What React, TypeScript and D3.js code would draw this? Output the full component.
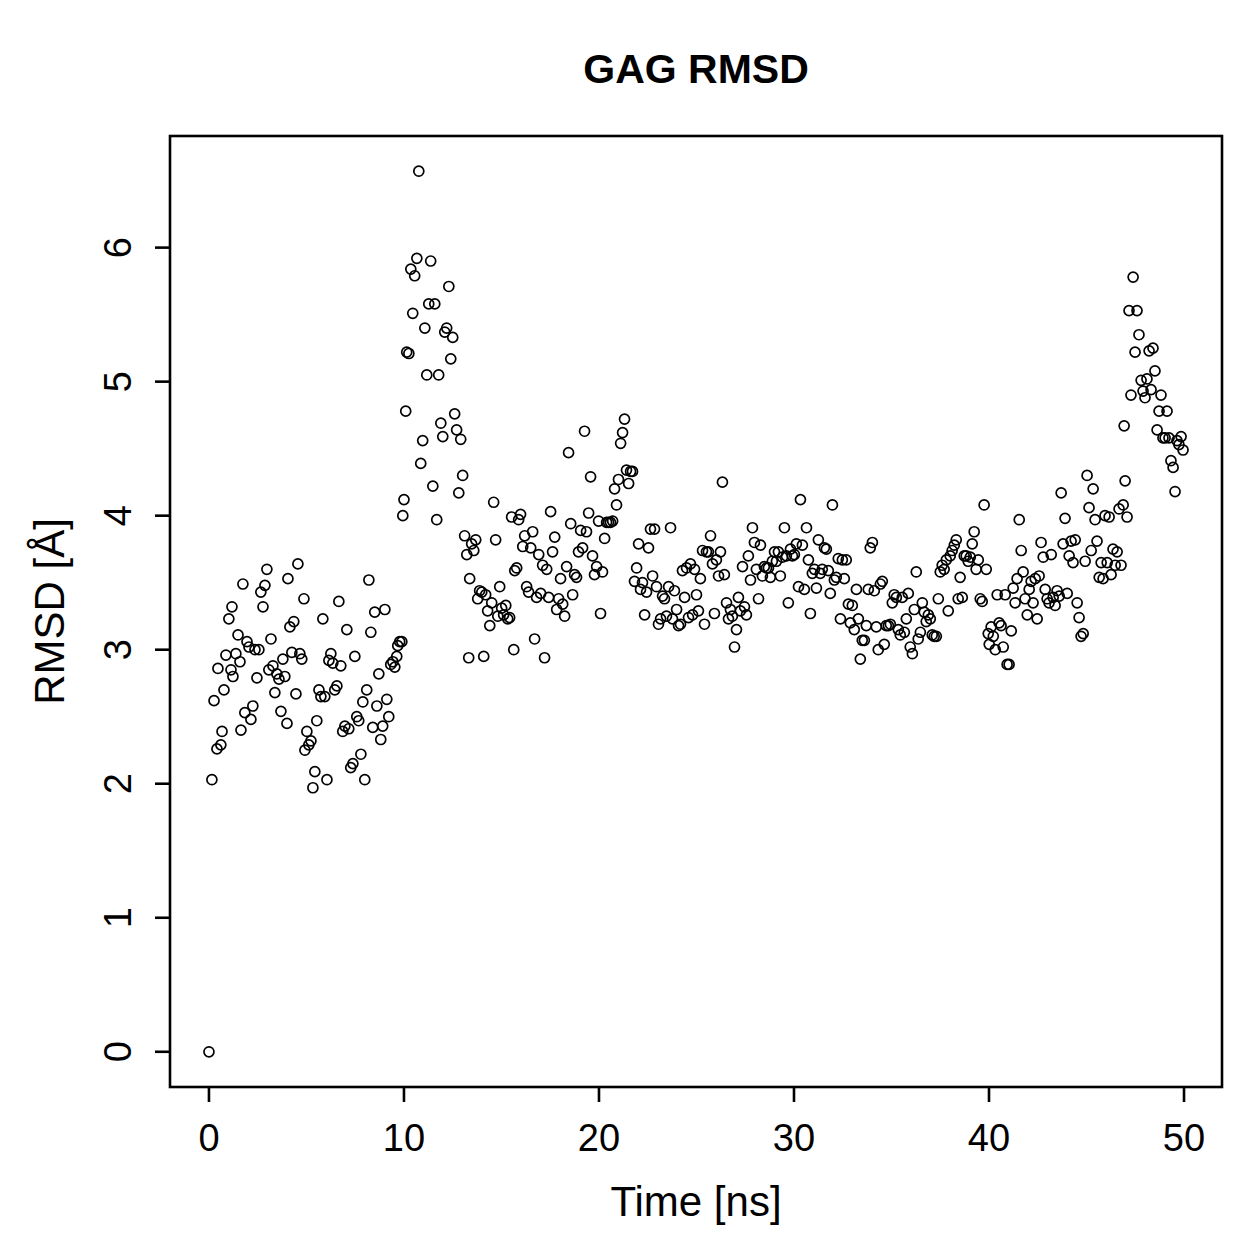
import * as d3 from 'd3'

// GAG RMSD over the 50 ns trajectory, [time ns, rmsd Å]
const early: [number, number][] = [
  [0, 0], [0.15, 2.03], [0.26, 2.62], [0.41, 2.26], [0.46, 2.86], [0.61, 2.29], [0.67, 2.39], [0.77, 2.7], [0.87, 2.96], [1.02, 3.23],
  [1.13, 2.85], [1.18, 3.32], [1.23, 2.8], [1.38, 2.97], [1.49, 3.11], [1.59, 2.91], [1.64, 2.4], [1.74, 3.49], [1.84, 2.53], [1.95, 3.06],
  [2.05, 3.02], [2.15, 2.48], [2.25, 2.58], [2.36, 3.0], [2.46, 2.79], [2.56, 3.0], [2.66, 3.43], [2.77, 3.32], [2.87, 3.48], [2.97, 3.6],
  [3.07, 2.85], [3.18, 3.08], [3.28, 2.88], [3.38, 2.68], [3.48, 2.82], [3.59, 2.78], [3.69, 2.54], [3.79, 2.93], [3.89, 2.8], [4.0, 2.45],
  [4.05, 3.53], [4.15, 3.17], [4.25, 2.98], [4.35, 3.21], [4.46, 2.67], [4.56, 3.64], [4.66, 2.97], [4.76, 2.93], [4.87, 3.38], [4.92, 2.25],
  [5.02, 2.39], [5.12, 2.29], [5.23, 2.32], [5.33, 1.97], [5.43, 2.09], [5.53, 2.47], [5.64, 2.7], [5.74, 2.65], [5.84, 3.23], [5.94, 2.65],
  [6.05, 2.03], [6.15, 2.92], [6.25, 2.97], [6.35, 2.9], [6.45, 2.7], [6.56, 2.73], [6.66, 3.36], [6.76, 2.88], [6.86, 2.39], [6.97, 2.43],
  [7.07, 3.15], [7.17, 2.41], [7.27, 2.12], [7.38, 2.15], [7.48, 2.95], [7.58, 2.5], [7.68, 2.47], [7.79, 2.22], [7.89, 2.61], [7.99, 2.03],
  [8.09, 2.7], [8.2, 3.52], [8.3, 3.13], [8.4, 2.42], [8.5, 3.28], [8.61, 2.58], [8.71, 2.82], [8.81, 2.33], [8.91, 2.43], [9.02, 3.3],
  [9.12, 2.63], [9.22, 2.5], [9.32, 2.89], [9.43, 2.91], [9.53, 2.87], [9.63, 2.95], [9.68, 3.03], [9.78, 3.06], [9.89, 3.06],
]

const jump: [number, number][] = [
  [9.94, 4.0], [10.0, 4.12], [10.09, 4.78], [10.14, 5.22], [10.25, 5.21], [10.35, 5.84], [10.45, 5.51], [10.55, 5.79], [10.66, 5.92], [10.76, 6.57],
  [10.86, 4.39], [10.96, 4.56], [11.07, 5.4], [11.17, 5.05], [11.27, 5.58], [11.37, 5.9], [11.48, 4.22], [11.58, 5.58], [11.68, 3.97], [11.78, 5.05],
  [11.89, 4.69], [11.99, 4.59], [12.09, 5.37], [12.19, 5.4], [12.3, 5.71], [12.4, 5.17], [12.5, 5.33], [12.6, 4.76], [12.7, 4.64], [12.81, 4.17],
  [12.91, 4.57], [13.01, 4.3],
]

const middleA: [number, number][] = [
  [13.11, 3.85], [13.22, 3.71], [13.32, 2.94], [13.37, 3.53], [13.47, 3.79], [13.58, 3.74], [13.68, 3.82], [13.78, 3.38], [13.88, 3.44], [13.99, 3.43],
  [14.09, 2.95], [14.19, 3.41], [14.29, 3.29], [14.4, 3.18], [14.5, 3.35], [14.6, 4.1], [14.7, 3.82], [14.81, 3.25], [14.91, 3.47], [15.01, 3.31],
  [15.11, 3.26], [15.22, 3.33], [15.32, 3.23], [15.42, 3.24], [15.52, 3.99], [15.63, 3.0], [15.68, 3.59], [15.78, 3.61], [15.88, 3.97], [15.98, 4.01],
  [16.09, 3.77], [16.19, 3.85], [16.29, 3.47], [16.39, 3.43], [16.5, 3.76], [16.6, 3.88], [16.7, 3.08], [16.8, 3.39], [16.91, 3.71], [17.01, 3.42],
  [17.11, 3.63], [17.21, 2.94], [17.32, 3.6], [17.42, 3.39], [17.52, 4.03], [17.62, 3.73], [17.73, 3.84], [17.83, 3.3], [17.93, 3.38], [18.03, 3.53],
  [18.14, 3.34], [18.24, 3.25], [18.34, 3.62], [18.44, 4.47], [18.55, 3.94], [18.65, 3.41], [18.75, 3.56], [18.85, 3.54], [18.95, 3.73], [19.06, 3.89],
  [19.16, 3.76], [19.26, 4.63], [19.36, 3.88], [19.47, 4.02], [19.57, 4.29], [19.67, 3.7], [19.77, 3.56], [19.88, 3.62], [19.98, 3.96], [20.08, 3.27],
  [20.18, 3.58], [20.29, 3.83], [20.39, 3.95], [20.49, 3.95], [20.59, 3.95], [20.7, 3.96], [20.8, 4.2], [20.9, 4.08], [21.0, 4.27], [21.11, 4.54],
  [21.21, 4.62], [21.31, 4.72], [21.41, 4.34], [21.52, 4.24], [21.62, 4.33], [21.72, 4.33],
]

const middleB: [number, number][] = [
  [21.82, 3.51], [21.93, 3.61], [22.03, 3.79], [22.13, 3.45], [22.23, 3.5], [22.34, 3.26], [22.44, 3.43], [22.54, 3.76], [22.64, 3.9], [22.75, 3.55],
  [22.85, 3.9], [22.95, 3.47], [23.05, 3.19], [23.16, 3.23], [23.26, 3.4], [23.36, 3.38], [23.46, 3.25], [23.57, 3.47], [23.67, 3.91], [23.77, 3.23],
  [23.87, 3.44], [23.98, 3.3], [24.08, 3.18], [24.18, 3.19], [24.28, 3.59], [24.39, 3.39], [24.49, 3.61], [24.59, 3.24], [24.69, 3.64], [24.8, 3.26],
  [24.9, 3.6], [25.0, 3.41], [25.1, 3.29], [25.2, 3.53], [25.31, 3.74], [25.41, 3.19], [25.51, 3.73], [25.61, 3.73], [25.72, 3.85], [25.82, 3.64],
  [25.92, 3.27], [26.02, 3.67], [26.13, 3.55], [26.23, 3.73], [26.33, 4.25], [26.43, 3.56], [26.54, 3.35], [26.64, 3.23], [26.74, 3.3], [26.84, 3.25],
  [26.95, 3.02], [27.05, 3.15], [27.15, 3.39], [27.25, 3.29], [27.36, 3.62], [27.46, 3.32], [27.56, 3.26], [27.66, 3.7], [27.77, 3.52], [27.87, 3.91],
  [27.97, 3.8], [28.07, 3.6], [28.18, 3.38], [28.28, 3.78], [28.38, 3.55], [28.48, 3.62], [28.59, 3.61], [28.69, 3.61], [28.79, 3.54], [28.89, 3.66],
  [29.0, 3.73], [29.1, 3.66], [29.2, 3.73], [29.3, 3.55], [29.41, 3.69], [29.51, 3.91], [29.61, 3.7], [29.71, 3.35], [29.82, 3.75], [29.92, 3.7],
]

const middleC: [number, number][] = [
  [30.02, 3.71], [30.12, 3.79], [30.23, 3.47], [30.33, 4.12], [30.43, 3.78], [30.53, 3.45], [30.64, 3.91], [30.74, 3.67], [30.84, 3.27], [30.94, 3.57],
  [31.05, 3.6], [31.15, 3.46], [31.25, 3.82], [31.35, 3.57], [31.45, 3.6], [31.56, 3.76], [31.66, 3.75], [31.76, 3.59], [31.86, 3.42], [31.97, 4.08],
  [32.07, 3.52], [32.17, 3.54], [32.27, 3.68], [32.38, 3.23], [32.48, 3.67], [32.58, 3.53], [32.68, 3.67], [32.79, 3.34], [32.89, 3.2], [32.99, 3.33],
  [33.09, 3.15], [33.2, 3.45], [33.3, 3.23], [33.4, 2.93], [33.5, 3.07], [33.61, 3.07], [33.71, 3.18], [33.81, 3.45], [33.91, 3.76], [34.02, 3.8],
  [34.12, 3.44], [34.22, 3.17], [34.32, 3.0], [34.43, 3.49], [34.53, 3.51], [34.63, 3.04], [34.73, 3.18], [34.84, 3.18], [34.94, 3.19], [35.04, 3.35],
  [35.14, 3.41], [35.25, 3.39], [35.35, 3.15], [35.45, 3.11], [35.55, 3.39], [35.66, 3.13], [35.76, 3.23], [35.86, 3.42], [35.96, 3.02], [36.07, 2.97],
  [36.17, 3.3], [36.27, 3.58], [36.37, 3.08], [36.48, 3.13], [36.58, 3.35], [36.68, 3.28], [36.78, 3.21], [36.89, 3.26], [36.99, 3.23], [37.09, 3.11],
  [37.19, 3.1], [37.3, 3.1], [37.4, 3.38], [37.5, 3.58], [37.6, 3.63], [37.7, 3.6], [37.81, 3.67], [37.91, 3.29], [38.01, 3.7], [38.11, 3.74],
  [38.22, 3.78], [38.32, 3.82], [38.42, 3.38], [38.52, 3.54], [38.63, 3.39], [38.73, 3.7], [38.83, 3.7], [38.93, 3.66], [39.04, 3.69], [39.14, 3.79],
  [39.24, 3.88], [39.34, 3.6], [39.45, 3.67], [39.55, 3.38], [39.65, 3.36], [39.75, 4.08], [39.86, 3.6],
]

const late: [number, number][] = [
  [39.96, 3.12], [40.01, 3.04], [40.11, 3.17], [40.22, 3.1], [40.32, 3.0], [40.42, 3.41], [40.52, 3.2], [40.62, 3.18], [40.73, 3.02], [40.83, 3.41],
  [40.93, 2.89], [41.03, 2.89], [41.14, 3.14], [41.24, 3.46], [41.34, 3.35], [41.44, 3.53], [41.55, 3.97], [41.65, 3.74], [41.75, 3.58], [41.85, 3.38],
  [41.96, 3.26], [42.06, 3.45], [42.16, 3.51], [42.26, 3.35], [42.37, 3.53], [42.47, 3.23], [42.57, 3.55], [42.67, 3.8], [42.78, 3.69], [42.88, 3.45],
  [42.98, 3.38], [43.08, 3.35], [43.19, 3.71], [43.29, 3.39], [43.39, 3.33], [43.49, 3.44], [43.6, 3.4], [43.7, 4.17], [43.8, 3.79], [43.9, 3.98],
  [44.01, 3.42], [44.11, 3.7], [44.21, 3.81], [44.31, 3.65], [44.42, 3.82], [44.52, 3.35], [44.62, 3.24], [44.72, 3.1], [44.83, 3.12], [44.93, 3.66],
  [45.03, 4.3], [45.13, 4.06], [45.24, 3.74], [45.34, 4.2], [45.44, 3.97], [45.54, 3.81], [45.65, 3.54], [45.75, 3.65], [45.85, 3.53], [45.95, 4.0],
  [46.06, 3.65], [46.16, 3.99], [46.26, 3.56], [46.36, 3.75], [46.47, 3.63], [46.57, 3.73], [46.67, 4.05], [46.77, 3.63], [46.88, 4.08], [46.93, 4.67],
  [46.98, 4.26], [47.08, 3.99], [47.18, 5.53], [47.28, 4.9], [47.39, 5.78], [47.49, 5.22], [47.59, 5.53], [47.69, 5.35], [47.8, 5.01], [47.9, 4.93],
  [48.0, 4.88], [48.1, 5.02], [48.21, 5.23], [48.31, 4.94], [48.41, 5.25], [48.51, 5.08], [48.62, 4.64], [48.72, 4.78], [48.82, 4.9], [48.92, 4.58],
  [49.03, 4.58], [49.13, 4.78], [49.23, 4.58], [49.33, 4.41], [49.44, 4.36], [49.54, 4.18], [49.64, 4.56], [49.74, 4.53], [49.85, 4.59], [49.95, 4.49],
]

const xTicks = [0, 10, 20, 30, 40, 50]
const yTicks = [0, 1, 2, 3, 4, 5, 6]

const W = 1259
const H = 1259
const FONT = '"Liberation Sans", Arial, Helvetica, sans-serif'

export default function App() {
  const points = [...early, ...jump, ...middleA, ...middleB, ...middleC, ...late]

  // plot region, R style: 4% padding on each side of the data range
  const left = 170
  const right = 1222
  const top = 136
  const bottom = 1087
  const xExt = d3.extent(points, (d) => d[0]) as [number, number]
  const yExt = d3.extent(points, (d) => d[1]) as [number, number]
  const xPad = (xExt[1] - xExt[0]) * 0.04
  const yPad = (yExt[1] - yExt[0]) * 0.04

  const x = d3.scaleLinear().domain([xExt[0] - xPad, xExt[1] + xPad]).range([left, right])
  const y = d3.scaleLinear().domain([yExt[0] - yPad, yExt[1] + yPad]).range([bottom, top])

  const tickLen = 15
  const lw = 2.6

  return (
    <svg width={W} height={H} style={{ position: 'absolute', left: 0, top: 0, background: '#fff' }} fontFamily={FONT}>
      <rect x={0} y={0} width={W} height={H} fill="#fff" />
      {/* title */}
      <text x={(left + right) / 2} y={83} textAnchor="middle" fontSize={41} fontWeight="bold">GAG RMSD</text>

      {/* points */}
      <g fill="none" stroke="#000" strokeWidth={1.7}>
        {points.map((d, i) => (
          <circle key={i} cx={x(d[0])} cy={y(d[1])} r={5} />
        ))}
      </g>

      {/* box */}
      <rect x={left} y={top} width={right - left} height={bottom - top} fill="none" stroke="#000" strokeWidth={lw} />

      {/* x axis */}
      <g stroke="#000" strokeWidth={lw}>
        {xTicks.map((t) => (
          <line key={t} x1={x(t)} x2={x(t)} y1={bottom} y2={bottom + tickLen} />
        ))}
      </g>
      <g fontSize={38} textAnchor="middle">
        {xTicks.map((t) => (
          <text key={t} x={x(t)} y={1151}>{t}</text>
        ))}
      </g>
      <text x={(left + right) / 2} y={1216} textAnchor="middle" fontSize={42}>Time [ns]</text>

      {/* y axis */}
      <g stroke="#000" strokeWidth={lw}>
        {yTicks.map((t) => (
          <line key={t} x1={left - tickLen} x2={left} y1={y(t)} y2={y(t)} />
        ))}
      </g>
      <g fontSize={38} textAnchor="middle">
        {yTicks.map((t) => (
          <text key={t} transform={`translate(131,${y(t)}) rotate(-90)`}>{t}</text>
        ))}
      </g>
      <text transform={`translate(64,${(top + bottom) / 2}) rotate(-90)`} textAnchor="middle" fontSize={42}>RMSD [Å]</text>
    </svg>
  )
}
